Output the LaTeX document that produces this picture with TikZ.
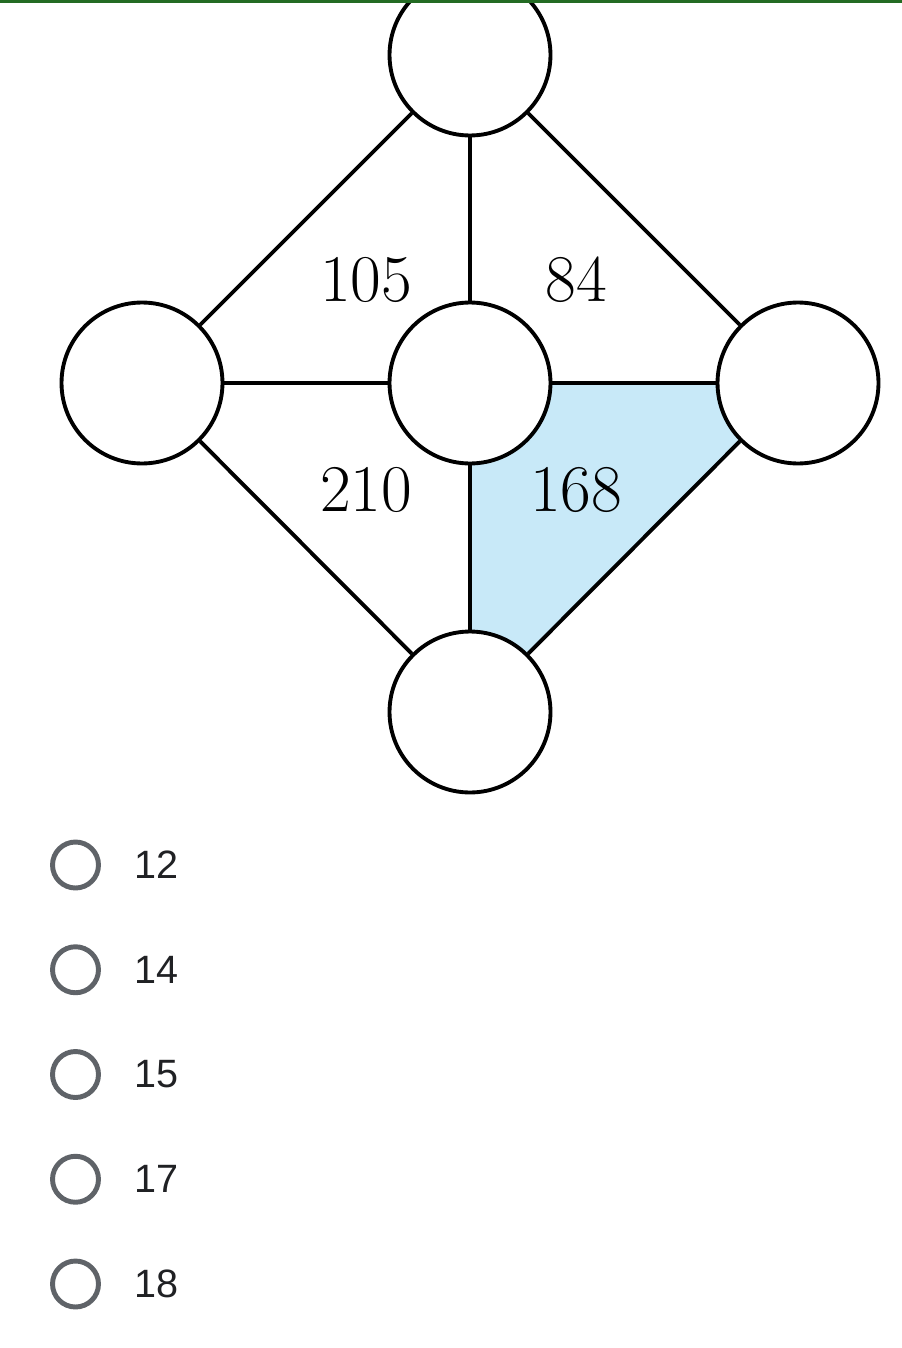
\documentclass[tikz,border=0pt]{standalone}
\usepackage{fontspec}
\newfontfamily\optfont{Liberation Sans}
\usepackage{tikz}
\usetikzlibrary{positioning, calc}

\definecolor{faceblue}{HTML}{C8E9F8}
\definecolor{topbar}{HTML}{236B23}
\definecolor{radio}{HTML}{5F6368}
\definecolor{opttext}{HTML}{202124}

\tikzset{
  spot/.style={circle, draw=black, fill=white, line width=2.2pt,
    minimum size=3.22cm, inner sep=0pt},
  edge/.style={line width=2.2pt},
  area/.style={font=\fontsize{38}{40}\selectfont},
  radiobtn/.style={circle, draw=radio, line width=2.8pt,
    minimum size=0.92cm, inner sep=0pt},
  optlabel/.style={anchor=west, text=opttext, inner sep=0pt,
    font=\optfont\fontsize{22.5}{24}\selectfont}
}

\begin{document}
\begin{tikzpicture}[x=0.02cm, y=-0.02cm]
    \useasboundingbox (0,0) rectangle (902,1348);
    \fill[white] (0,0) rectangle (902,1348);
    % positions of the five circles
    \coordinate (pt) at (470,55);
    \coordinate (pl) at (142,383);
    \coordinate (pc) at (470,383);
    \coordinate (pr) at (798,383);
    \coordinate (pb) at (470,712);
    % shaded face
    \fill[faceblue] (pc) -- (pr) -- (pb) -- cycle;
    \node[spot] (top) at (pt) {};
    \node[spot] (left) at (pl) {};
    \node[spot] (mid) at (pc) {};
    \node[spot] (right) at (pr) {};
    \node[spot] (bot) at (pb) {};
    \foreach \a/\b in {top/left, top/mid, top/right, left/mid,
                       mid/right, left/bot, mid/bot, right/bot} {
      \draw[edge] (\a) -- (\b);
    }
    \node[area] (n105) at (366,280) {105};
    \node[area] (n84)  at (576,280) {84};
    \node[area] (n210) at (366,490) {210};
    \node[area] (n168) at (576,490) {168};
    % answer options
    \foreach \i/\v in {0/12, 1/14, 2/15, 3/17, 4/18} {
      \node[radiobtn] (btn\i) at (75.5, 865+\i*104.75) {};
      \node[optlabel] (opt\i) at (134, 865+\i*104.75) {\v};
    }
    \draw[topbar, line width=2pt] (0,1.5) -- (902,1.5);
  \end{tikzpicture}
\end{document}
